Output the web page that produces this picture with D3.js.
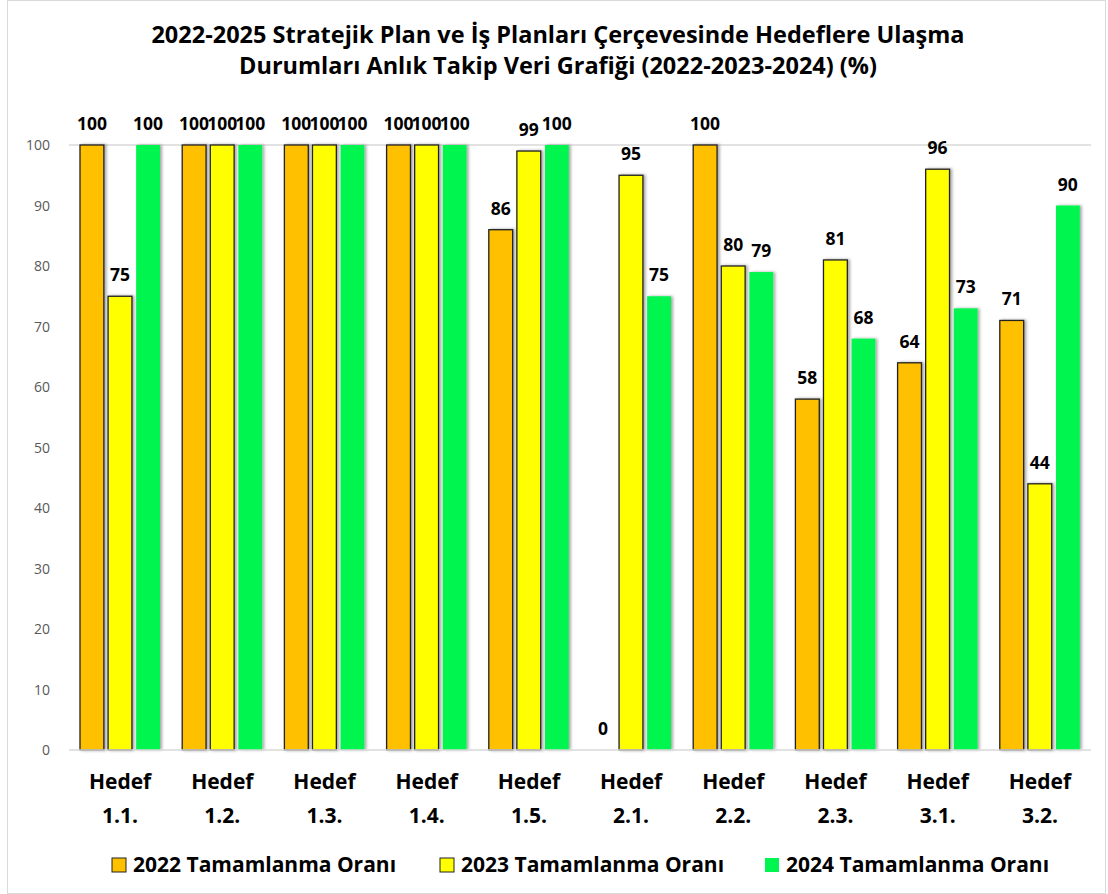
<!DOCTYPE html>
<html>
<head>
<meta charset="utf-8">
<script src="https://cdn.jsdelivr.net/npm/d3@7"></script>
<style>
  body { margin: 0; background: #fff; }
  text { font-family: "Open Sans", Lato, sans-serif; }
</style>
</head>
<body>
<script>
// Chart size
var w = 1108;
var h = 894;

// Data
var categories = ["1.1.", "1.2.", "1.3.", "1.4.", "1.5.", "2.1.", "2.2.", "2.3.", "3.1.", "3.2."];
var series = ["2022 Tamamlanma Oranı", "2023 Tamamlanma Oranı", "2024 Tamamlanma Oranı"];
var values2022 = [100, 100, 100, 100, 86, 0, 100, 58, 64, 71];
var values2023 = [75, 100, 100, 100, 99, 95, 80, 81, 96, 44];
var values2024 = [100, 100, 100, 100, 100, 75, 79, 68, 73, 90];
var yTicks = [0, 10, 20, 30, 40, 50, 60, 70, 80, 90, 100];
var colors = ["#FFC000", "#FFFF00", "#00F550"];
var strokes = ["#222", "#222", "none"];

var allValues = [values2022, values2023, values2024];

var svg = d3.select("body").append("svg")
    .attr("width", w)
    .attr("height", h);

// shadow filter for the bars
var defs = svg.append("defs");
var f = defs.append("filter").attr("id", "shadow")
    .attr("x", "-30%").attr("y", "-10%").attr("width", "160%").attr("height", "120%");
f.append("feDropShadow").attr("dx", 2).attr("dy", 0).attr("stdDeviation", 1.6)
    .attr("flood-color", "#000").attr("flood-opacity", 0.35);

// outer frame
svg.append("rect")
    .attr("x", 7.5).attr("y", 0.5)
    .attr("width", w - 10).attr("height", h - 1)
    .attr("fill", "#fff").attr("stroke", "#d9d9d9");

// title
var title = svg.append("text")
    .attr("text-anchor", "middle")
    .attr("font-size", 23.5)
    .attr("font-weight", "bold")
    .attr("fill", "#000");
title.append("tspan").attr("x", 558).attr("y", 43)
    .text("2022-2025 Stratejik Plan ve İş Planları Çerçevesinde Hedeflere Ulaşma");
title.append("tspan").attr("x", 558).attr("y", 74)
    .text("Durumları Anlık Takip Veri Grafiği (2022-2023-2024) (%)");

// scales
var x0 = d3.scaleBand()
    .domain(categories)
    .range([69, 1091])
    .paddingInner(0)
    .paddingOuter(0);

var x1 = d3.scaleBand()
    .domain(d3.range(series.length))
    .range([11, 91])
    .paddingInner(0.15);

var y = d3.scaleLinear()
    .domain([0, 100])
    .range([750, 145]);

// y axis labels
svg.append("g").selectAll("text")
    .data(yTicks)
    .enter()
    .append("text")
    .attr("x", 50)
    .attr("y", function(d) { return y(d) + 5; })
    .attr("text-anchor", "end")
    .attr("font-size", 14)
    .attr("fill", "#595959")
    .text(function(d) { return d; });

// grid line at the top
svg.append("line")
    .attr("x1", 69).attr("x2", 1091)
    .attr("y1", y(100)).attr("y2", y(100))
    .attr("stroke", "#d9d9d9").attr("stroke-width", 1.5);

// bars
var groups = svg.append("g").selectAll("g")
    .data(categories)
    .enter()
    .append("g")
    .attr("transform", function(d) { return "translate(" + x0(d) + ",0)"; });

groups.selectAll("rect")
    .data(function(d, i) {
        return allValues.map(function(v, s) { return { s: s, v: v[i] }; });
    })
    .enter()
    .append("rect")
    .attr("x", function(d) { return x1(d.s); })
    .attr("y", function(d) { return y(d.v); })
    .attr("width", x1.bandwidth())
    .attr("height", function(d) { return y(0) - y(d.v); })
    .attr("fill", function(d) { return colors[d.s]; })
    .attr("stroke", function(d) { return strokes[d.s]; })
    .attr("stroke-width", 1.3)
    .attr("filter", "url(#shadow)");

// value labels
groups.selectAll("text.val")
    .data(function(d, i) {
        return allValues.map(function(v, s) { return { s: s, v: v[i] }; });
    })
    .enter()
    .append("text")
    .attr("class", "val")
    .attr("x", function(d) { return x1(d.s) + x1.bandwidth() / 2; })
    .attr("y", function(d) { return y(d.v) - 15; })
    .attr("text-anchor", "middle")
    .attr("font-size", 17.5)
    .attr("font-weight", "bold")
    .attr("fill", "#000")
    .text(function(d) { return d.v; });

// baseline
svg.append("line")
    .attr("x1", 69).attr("x2", 1091)
    .attr("y1", y(0)).attr("y2", y(0))
    .attr("stroke", "#d9d9d9").attr("stroke-width", 1.5);

// category labels
var xl = svg.append("g").selectAll("text")
    .data(categories)
    .enter()
    .append("text")
    .attr("text-anchor", "middle")
    .attr("font-size", 21)
    .attr("font-weight", "bold")
    .attr("fill", "#000");
xl.append("tspan")
    .attr("x", function(d) { return x0(d) + x0.bandwidth() / 2; })
    .attr("y", 789)
    .text("Hedef");
xl.append("tspan")
    .attr("x", function(d) { return x0(d) + x0.bandwidth() / 2; })
    .attr("y", 823)
    .text(function(d) { return d; });

// legend
var legendX = [112, 440, 765];
var legend = svg.append("g").selectAll("g")
    .data(series)
    .enter()
    .append("g")
    .attr("transform", function(d, i) { return "translate(" + legendX[i] + ",858)"; });

legend.append("rect")
    .attr("width", 14).attr("height", 14)
    .attr("fill", function(d, i) { return colors[i]; })
    .attr("stroke", function(d, i) { return strokes[i]; })
    .attr("stroke-width", 1);

legend.append("text")
    .attr("x", 21)
    .attr("y", 14)
    .attr("font-size", 21)
    .attr("font-weight", "bold")
    .attr("fill", "#000")
    .text(function(d) { return d; });
</script>
</body>
</html>
